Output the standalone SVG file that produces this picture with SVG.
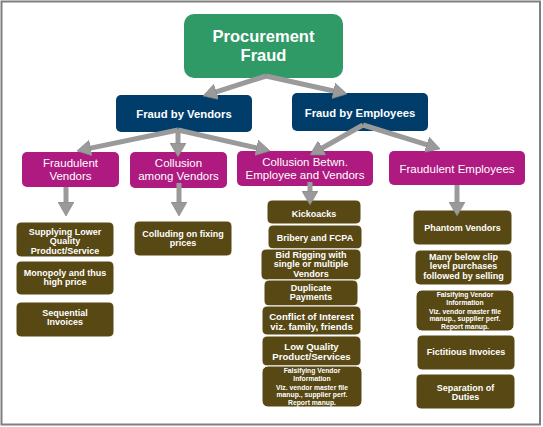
<svg xmlns="http://www.w3.org/2000/svg" width="543" height="427" viewBox="0 0 543 427">
<defs>
<marker id="ah" viewBox="0 0 14 16" refX="5" refY="8" markerWidth="14" markerHeight="16" markerUnits="userSpaceOnUse" orient="auto">
<path d="M0,0 L14,8 L0,16 z" fill="#9a9a9a" stroke="#808080" stroke-width="0.6"/>
</marker>
</defs>
<style>
.frame{fill:#fff;stroke:#7f7f7f;stroke-width:2}
.gr{fill:#2F9A66}
.nv{fill:#003D6B}
.mg{fill:#AE1A80}
.br{fill:#574814;stroke:#fff;stroke-width:1}
.cn{stroke:#9a9a9a;stroke-width:5;fill:none;marker-end:url(#ah)}
text{font-family:"Liberation Sans",Arial,sans-serif;fill:#fff;text-anchor:middle}
.t1{font-size:16.5px;font-weight:bold}
.t2{font-size:11.3px;font-weight:bold}
.t3{font-size:11.5px}
.t4{font-size:9px;font-weight:bold}
.t4b{font-size:9.6px;font-weight:bold}
.t5{font-size:6.8px;font-weight:bold}
</style>
<rect class="frame" x="1.5" y="1.5" width="538.5" height="423"/>

<g id="procurement-fraud">
<rect class="gr" x="184" y="14" width="159" height="64" rx="10"/>
<text class="t1" x="263.5" y="42">Procurement</text>
<text class="t1" x="263.5" y="61">Fraud</text>
</g>

<g id="fraud-by-vendors">
<rect class="nv" x="116" y="95" width="136" height="37" rx="5"/>
<text class="t2" x="184" y="118">Fraud by Vendors</text>
</g>
<g id="fraud-by-employees">
<rect class="nv" x="292" y="93" width="136" height="38" rx="5"/>
<text class="t2" x="360" y="116.5">Fraud by Employees</text>
</g>

<g id="fraudulent-vendors">
<rect class="mg" x="22" y="152" width="97" height="35" rx="5"/>
<text class="t3" x="70.5" y="166.5">Fraudulent</text>
<text class="t3" x="70.5" y="179.5">Vendors</text>
</g>
<g id="collusion-among-vendors">
<rect class="mg" x="130" y="152" width="97" height="36" rx="5"/>
<text class="t3" x="178.5" y="166.5">Collusion</text>
<text class="t3" x="178.5" y="179.5">among Vendors</text>
</g>
<g id="collusion-betwn">
<rect class="mg" x="237" y="151" width="136" height="35" rx="5"/>
<text class="t3" x="305" y="165.5">Collusion Betwn.</text>
<text class="t3" x="305" y="178.5">Employee and Vendors</text>
</g>
<g id="fraudulent-employees">
<rect class="mg" x="389" y="151" width="136" height="34" rx="5"/>
<text class="t3" x="457" y="172.5">Fraudulent Employees</text>
</g>

<g id="supplying-lower-quality">
<rect class="br" x="16" y="222" width="98" height="35" rx="5"/>
<text class="t4" x="65" y="234.5">Supplying Lower</text>
<text class="t4" x="65" y="244">Quality</text>
<text class="t4" x="65" y="253.5">Product/Service</text>
</g>
<g id="monopoly">
<rect class="br" x="16" y="261" width="98" height="34" rx="5"/>
<text class="t4" x="65" y="275.5">Monopoly and thus</text>
<text class="t4" x="65" y="285">high price</text>
</g>
<g id="sequential-invoices">
<rect class="br" x="16" y="302" width="98" height="35" rx="5"/>
<text class="t4" x="65" y="315.5">Sequential</text>
<text class="t4" x="65" y="325">Invoices</text>
</g>

<g id="colluding-fixing-prices">
<rect class="br" x="134" y="221" width="98" height="35" rx="5"/>
<text class="t4" x="183" y="236.5">Colluding on fixing</text>
<text class="t4" x="183" y="246">prices</text>
</g>

<g id="kickoacks">
<rect class="br" x="267" y="200" width="94" height="24" rx="5"/>
<text class="t4" x="314" y="216.5">Kickoacks</text>
</g>
<g id="bribery-fcpa">
<rect class="br" x="268" y="225" width="94" height="24" rx="5"/>
<text class="t4" x="315" y="240.5">Bribery and FCPA</text>
</g>
<g id="bid-rigging">
<rect class="br" x="261" y="249" width="100" height="31" rx="5"/>
<text class="t4" x="311" y="257.5">Bid Rigging with</text>
<text class="t4" x="311" y="267">single or multiple</text>
<text class="t4" x="311" y="276.5">Vendors</text>
</g>
<g id="duplicate-payments">
<rect class="br" x="264" y="280" width="94" height="26" rx="5"/>
<text class="t4" x="311" y="290.5">Duplicate</text>
<text class="t4" x="311" y="300">Payments</text>
</g>
<g id="conflict-of-interest">
<rect class="br" x="262" y="306" width="99" height="29" rx="5"/>
<text class="t4b" x="311.5" y="319.5">Conflict of Interest</text>
<text class="t4b" x="311.5" y="329.5">viz. family, friends</text>
</g>
<g id="low-quality">
<rect class="br" x="262" y="336" width="99" height="30" rx="5"/>
<text class="t4b" x="311.5" y="349.5">Low Quality</text>
<text class="t4b" x="311.5" y="359.5">Product/Services</text>
</g>
<g id="falsifying-vendor-mid">
<rect class="br" x="262" y="366" width="100" height="41" rx="6"/>
<text class="t5" x="312" y="373">Falsifying Vendor</text>
<text class="t5" x="312" y="380.5">Information</text>
<text class="t5" x="312" y="389.5">Viz. vendor master file</text>
<text class="t5" x="312" y="397">manup., supplier perf.</text>
<text class="t5" x="312" y="404.5">Report manup.</text>
</g>

<g id="phantom-vendors">
<rect class="br" x="413" y="210" width="99" height="35" rx="5"/>
<text class="t4" x="462.5" y="230.5">Phantom Vendors</text>
</g>
<g id="many-below-clip">
<rect class="br" x="415" y="250" width="97" height="35" rx="5"/>
<text class="t4" x="463.5" y="259.5">Many below clip</text>
<text class="t4" x="463.5" y="269">level purchases</text>
<text class="t4" x="463.5" y="278.5">followed by selling</text>
</g>
<g id="falsifying-vendor-right">
<rect class="br" x="416" y="290" width="98" height="41" rx="6"/>
<text class="t5" x="465" y="297">Falsifying Vendor</text>
<text class="t5" x="465" y="304.5">Information</text>
<text class="t5" x="465" y="313.5">Viz. vendor master file</text>
<text class="t5" x="465" y="321">manup., supplier perf.</text>
<text class="t5" x="465" y="328.5">Report manup.</text>
</g>
<g id="fictitious-invoices">
<rect class="br" x="417" y="335" width="98" height="35" rx="5"/>
<text class="t4" x="466" y="355">Fictitious Invoices</text>
</g>
<g id="separation-of-duties">
<rect class="br" x="416" y="374" width="99" height="35" rx="5"/>
<text class="t4" x="465.5" y="390.5">Separation of</text>
<text class="t4" x="465.5" y="400">Duties</text>
</g>

<g id="connectors">
<line class="cn" x1="266" y1="76" x2="211.6" y2="93.3"/>
<line class="cn" x1="266" y1="76" x2="338.2" y2="92"/>
<line class="cn" x1="178" y1="130" x2="85.8" y2="149.1"/>
<line class="cn" x1="178" y1="130" x2="178" y2="148"/>
<line class="cn" x1="178" y1="130" x2="261.2" y2="148.9"/>
<line class="cn" x1="363" y1="125" x2="317.8" y2="150.5"/>
<line class="cn" x1="363" y1="125" x2="431.4" y2="146.2"/>
<line class="cn" x1="66" y1="187" x2="66" y2="207"/>
<line class="cn" x1="179" y1="183" x2="179" y2="207"/>
<line class="cn" x1="310" y1="182" x2="310" y2="196"/>
<line class="cn" x1="457" y1="185" x2="457" y2="207"/>
</g>
</svg>
